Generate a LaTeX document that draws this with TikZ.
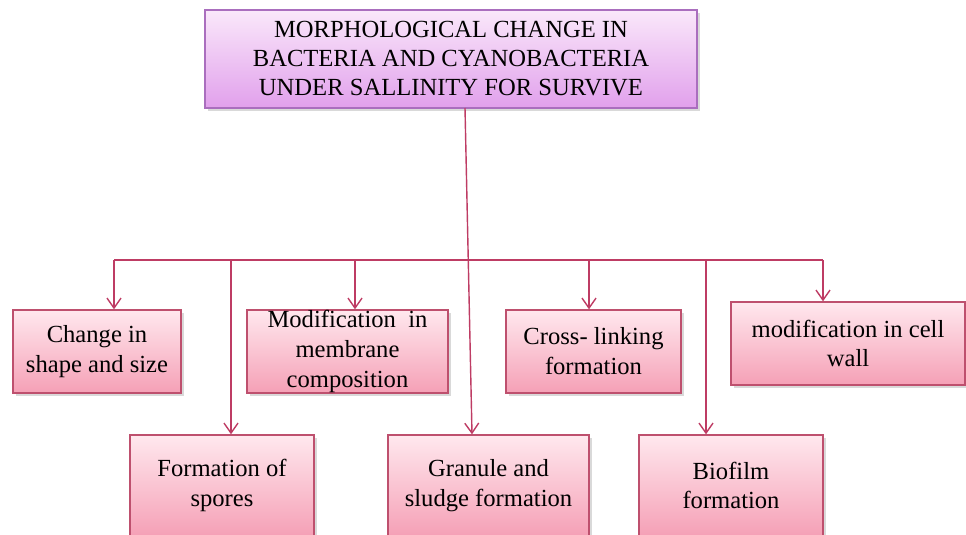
\documentclass[tikz,border=0pt]{standalone}
\usepackage{fontspec}
\setmainfont{Liberation Serif}
\usepackage{tikz}
\usetikzlibrary{arrows.meta, shadows}

\definecolor{linkred}{RGB}{190,60,100}
\definecolor{boxedge}{RGB}{190,80,110}
\definecolor{pinktop}{RGB}{255,232,238}
\definecolor{pinkbot}{RGB}{245,160,182}
\definecolor{lilacedge}{RGB}{170,110,190}
\definecolor{lilactop}{RGB}{250,232,250}
\definecolor{lilacbot}{RGB}{225,160,236}

\begin{document}
\begin{tikzpicture}[
    x=0.02cm, y=-0.02cm,
    leaf/.style={draw=boxedge, line width=0.8pt, rectangle, top color=pinktop, bottom color=pinkbot,
        drop shadow={shadow xshift=1.5pt, shadow yshift=-1.5pt, opacity=0.3},
        inner sep=0pt, align=center, font=\fontsize{14}{17}\selectfont},
    head/.style={draw=lilacedge, line width=0.8pt, rectangle, top color=lilactop, bottom color=lilacbot,
        drop shadow={shadow xshift=1.5pt, shadow yshift=-1.5pt, opacity=0.3},
        inner sep=0pt, align=center, minimum width=9.84cm, minimum height=1.96cm,
        font=\fontsize{14}{16.5}\selectfont},
    link/.style={draw=linkred, line width=0.8pt},
    arrow/.style={link, -{Straight Barb[length=2mm, width=2.8mm]}}
]
    \useasboundingbox (0,0) rectangle (966,534);

    % Boxes
    \node[head] (top) at (451,59) {MORPHOLOGICAL CHANGE IN\\BACTERIA AND CYANOBACTERIA\\UNDER SALLINITY FOR SURVIVE};

    \node[leaf, minimum width=3.36cm, minimum height=1.66cm] (shape) at (97,351.5) {Change in\\shape and size};
    \node[leaf, minimum width=4.02cm, minimum height=1.66cm] (membrane) at (347.5,351.5) {Modification~ in\\membrane\\composition};
    \node[leaf, minimum width=3.5cm, minimum height=1.66cm] (crosslink) at (593.5,351.5) {Cross- linking\\formation};
    \node[leaf, minimum width=4.68cm, minimum height=1.66cm] (wall) at (848,343.5) {modification in cell\\wall};

    \node[leaf, minimum width=3.68cm, minimum height=2.02cm] (spores) at (222,485.5) {Formation of\\spores};
    \node[leaf, minimum width=4.02cm, minimum height=2.02cm] (granule) at (488.5,485.5) {Granule and\\sludge formation};
    \node[leaf, minimum width=3.68cm, minimum height=2.02cm] (biofilm) at (731,485.5) {Biofilm\\formation};

    % Junctions on the bus
    \coordinate (stem) at (465,108);
    \coordinate (j1) at (114,260);
    \coordinate (j2) at (231,260);
    \coordinate (j3) at (355,260);
    \coordinate (j4) at (472,260);
    \coordinate (j5) at (589,260);
    \coordinate (j6) at (706,260);
    \coordinate (j7) at (823,260);

    % Connectors
    \draw[link] (j1) -- (j7);
    \draw[arrow] (stem) -- (j4 |- granule.north);
    \draw[arrow] (j1) -- (j1 |- shape.north);
    \draw[arrow] (j2) -- (j2 |- spores.north);
    \draw[arrow] (j3) -- (j3 |- membrane.north);
    \draw[arrow] (j5) -- (j5 |- crosslink.north);
    \draw[arrow] (j6) -- (j6 |- biofilm.north);
    \draw[arrow] (j7) -- (j7 |- wall.north);

\end{tikzpicture}
\end{document}
